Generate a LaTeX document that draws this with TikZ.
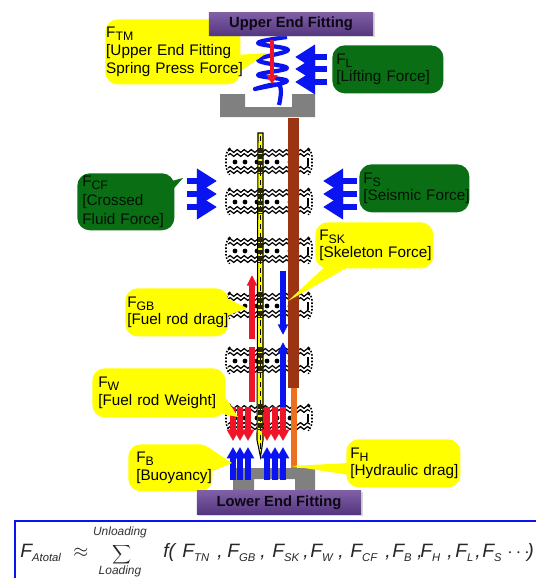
\documentclass[tikz,border=0pt]{standalone}
\usepackage{fontspec}
\setmainfont[WordSpace=2]{Liberation Sans}
\newfontfamily\plainfont{Liberation Sans}
\usetikzlibrary{arrows.meta,decorations.pathmorphing,shadows}
\definecolor{calloutyellow}{RGB}{255,255,0}
\definecolor{calloutgreen}{RGB}{10,110,20}
\definecolor{skeletonbrown}{RGB}{155,52,18}
\definecolor{dragorange}{RGB}{236,112,30}
\definecolor{forcered}{RGB}{240,20,40}
\definecolor{forceblue}{RGB}{10,20,240}
\definecolor{platepurple}{RGB}{128,96,165}
\definecolor{platedark}{RGB}{84,54,128}
\definecolor{plategray}{RGB}{128,128,128}
\tikzset{
 yellowbox/.style={fill=calloutyellow,rounded corners=7pt,inner ysep=0pt,align=left,anchor=north west,font=\fontsize{8.7}{10}\selectfont},
 greenbox/.style={yellowbox,fill=calloutgreen,text=black!85!calloutgreen},
 fittingbox/.style={top color=platepurple,bottom color=platedark,minimum width=93.5pt,minimum height=13.6pt,inner sep=0pt,font=\plainfont\fontsize{8.4}{10}\selectfont\bfseries,text=black!85!platedark,drop shadow={shadow xshift=0.8pt,shadow yshift=-0.8pt,opacity=0.3}},
 widearrow/.style={forceblue,line width=3.8pt,-{Triangle[length=11.5pt,width=13.5pt]}},
 redup/.style={forcered,line width=3.2pt,-{Triangle[length=6pt,width=5.5pt]}},
 blueup/.style={forceblue,line width=3.2pt,-{Triangle[length=6pt,width=5.5pt]}},
 smallarrow/.style={line width=3pt,-{Triangle[length=6.5pt,width=6.8pt]}},
 gridline/.style={black,line width=0.7pt,decorate,decoration={snake,segment length=4pt,amplitude=0.8pt}},
 formula/.style={inner sep=0pt,anchor=base west,font=\plainfont\fontsize{11}{12}\selectfont\itshape,text=black!85},
 smallformula/.style={inner sep=0pt,font=\plainfont\fontsize{6.8}{8}\selectfont\itshape,text=black!80}
}
\newcommand{\Fsub}[1]{F{\fontsize{6.4}{7}\selectfont\raisebox{-2.4pt}{#1}}}
\newcommand{\Fl}[1]{F{\fontsize{7}{8}\selectfont\raisebox{-1.6pt}{#1}}}
\begin{document}
\begin{tikzpicture}[x=0.02cm,y=-0.02cm]
 \useasboundingbox (0,0) rectangle (535,578);
 \fill[white] (0,0) rectangle (535,578);
 \foreach \y in {148,188,237,292,347,404}{
  \draw[gridline] (228,\y+3) -- (310,\y+3);
  \draw[gridline] (228,\y+7) -- (310,\y+7);
  \draw[gridline] (228,\y+20) -- (310,\y+20);
  \draw[gridline] (228,\y+24) -- (310,\y+24);
  \draw[black,line width=0.9pt,densely dotted,rounded corners=3pt] (229,\y+1) -- (226,\y+3) -- (226,\y+23) -- (229,\y+26);
  \draw[black,line width=0.9pt,densely dotted,rounded corners=3pt] (309,\y+1) -- (312,\y+3) -- (312,\y+23) -- (309,\y+26);
  \draw[black,line width=1.2pt] (308,\y+10) -- (308,\y+18);
  \foreach \x in {235,245,257,267,277,290}{
   \fill[black] (\x,\y+14) circle (2.4);
  }
 }
 \fill[plategray] (220,94) -- (245,94) -- (245,107) -- (292,107) -- (292,94) -- (315,94) -- (315,117) -- (220,117) -- cycle;
 \fill[plategray] (233,490) -- (233,468) -- (315,468) -- (315,490) -- (295,490) -- (295,479) -- (254,479) -- (254,490) -- cycle;
 \fill[skeletonbrown] (288,118) rectangle (299,388);
 \fill[dragorange] (291,388) rectangle (297,468);
 \draw[black,fill=calloutyellow,line width=0.6pt] (258,133) -- (263,133) -- (263,440) -- (260.5,457) -- (257,440) -- cycle;
 \draw[black,line width=0.4pt,densely dashed] (260.5,136) -- (260.5,450);
 \foreach \y in {148,188,237,292,347,404}{
  \draw[black!85!calloutyellow,line width=2.6pt,densely dotted] (260.5,\y) -- (260.5,\y+26);
 }
 \draw[forceblue,line width=2.4pt,line join=round] plot[smooth,tension=0.65] coordinates {(287,37) (258,43) (288,50) (258,60) (287,68) (258,75) (287,81) (255,89) (279,85) (279,105)};
 \draw[forcered,line width=2.2pt,-{Triangle[length=5pt,width=6pt]}] (272,40) -- (272,84);
 \draw[widearrow] (327,57) -- (295,57);
 \draw[widearrow] (327,69) -- (295,69);
 \draw[widearrow] (327,82) -- (295,82);
 \draw[widearrow] (187,181) -- (217,181);
 \draw[widearrow] (187,194) -- (217,194);
 \draw[widearrow] (187,207) -- (217,207);
 \draw[widearrow] (357,181) -- (323,181);
 \draw[widearrow] (357,194) -- (323,194);
 \draw[widearrow] (357,207) -- (323,207);
 \draw[redup] (252,339) -- (252,275);
 \draw[blueup] (283,271) -- (283,335);
 \draw[blueup] (283,407) -- (283,342);
 \draw[forcered,line width=3.2pt] (252,347) -- (252,402);
 \foreach \x in {233,240,248,267,275,283}{
  \draw[smallarrow,forcered] (\x,407) -- (\x,441);
  \draw[smallarrow,forceblue] (\x,480) -- (\x,447);
 }
 \coordinate (ftmtip) at (267,53);
 \coordinate (fsktip) at (288,301);
 \coordinate (fgbtip) at (247,308);
 \coordinate (fwtip) at (238,417);
 \coordinate (fbtip) at (232,463);
 \coordinate (fhtip) at (291,466);
 \coordinate (fcftip) at (183,178);
 \fill[calloutyellow] (ftmtip) -- (236,55) -- (236,74) -- cycle;
 \fill[calloutyellow] (fsktip) -- (330,262) -- (357,262) -- cycle;
 \fill[calloutyellow] (fgbtip) -- (222,296) -- (222,318) -- cycle;
 \fill[calloutyellow] (fwtip) -- (222,392) -- (212,412) -- cycle;
 \fill[calloutyellow] (fbtip) -- (208,447) -- (208,473) -- cycle;
 \fill[calloutyellow] (fhtip) -- (350,463) -- (350,475) -- cycle;
 \fill[calloutgreen] (fcftip) -- (168,182) -- (168,195) -- cycle;
 \node[yellowbox,minimum height=37pt,inner xsep=0.5pt,text width=75.8pt] (ftm) at (105,19) {\Fl{TM}\\\mbox{[Upper End Fitting}\\\mbox{Spring Press Force]}};
 \node[greenbox,minimum height=27.3pt,inner xsep=2.3pt,text width=58.6pt] (fl) at (332,45) {\Fl{L}\\\mbox{[Lifting Force]}};
 \node[greenbox,minimum height=32.4pt,inner xsep=2.8pt,text width=49.6pt,font=\fontsize{8.7}{10.6}\selectfont] (fcf) at (77,173) {\Fl{CF}\\\mbox{[Crossed}\\\mbox{Fluid Force]}};
 \node[greenbox,minimum height=27.3pt,inner xsep=2.3pt,text width=58pt] (fs) at (359,164) {\Fl{S}\\\mbox{[Seismic Force]}};
 \node[yellowbox,minimum height=26.2pt,inner xsep=2.3pt,text width=62.5pt] (fsk) at (315,222) {\Fl{SK}\\\mbox{[Skeleton Force]}};
 \node[yellowbox,minimum height=27.3pt,inner xsep=1.1pt,text width=56.4pt] (fgb) at (125,288) {\Fl{GB}\\\mbox{[Fuel rod drag]}};
 \node[yellowbox,minimum height=27.9pt,inner xsep=3.4pt,text width=68.9pt] (fw) at (92,368) {\Fl{W}\\\mbox{[Fuel rod Weight]}};
 \node[yellowbox,minimum height=26.7pt,inner xsep=4.5pt,text width=38.8pt] (fb) at (128,444) {\Fl{B}\\\mbox{[Buoyancy]}};
 \node[yellowbox,minimum height=27.3pt,inner xsep=2.3pt,text width=60.3pt] (fh) at (346,439) {\Fl{H}\\\mbox{[Hydraulic drag]}};
 \node[fittingbox] (upperfit) at (291,24) {Upper End Fitting};
 \node[fittingbox] (lowerfit) at (279,502.5) {Lower End Fitting};
 \draw[forceblue,line width=1.1pt] (537,521) -- (15,521) -- (15,580);
 \node[formula] (fatotal) at (20,557) {\Fsub{Atotal}};
 \node[formula] (approx) at (73,557) {$\approx$};
 \node[scale=0.75,inner sep=0pt,text=black!85] (sumsign) at (122,555) {$\displaystyle\sum$};
 \node[smallformula] (unloading) at (120,532) {Unloading};
 \node[smallformula] (loading) at (120,571) {Loading};
 \node[formula] (ffunc) at (163,557) {f(};
 \foreach \x/\t in {182/TN,227/GB,272/SK,310/W,350/CF,392/B,420/H,455/L,482/S}{
  \node[formula] (f\t) at (\x,557) {\Fsub{\t}};
 }
 \foreach \x in {217,260,303,338,385,417,447,475}{
  \node[formula] (comma\x) at (\x,557) {,};
 }
 \node[formula] (fdots) at (507,557) {$\cdots$};
 \node[formula] (fclose) at (527,557) {)};
\end{tikzpicture}
\end{document}
